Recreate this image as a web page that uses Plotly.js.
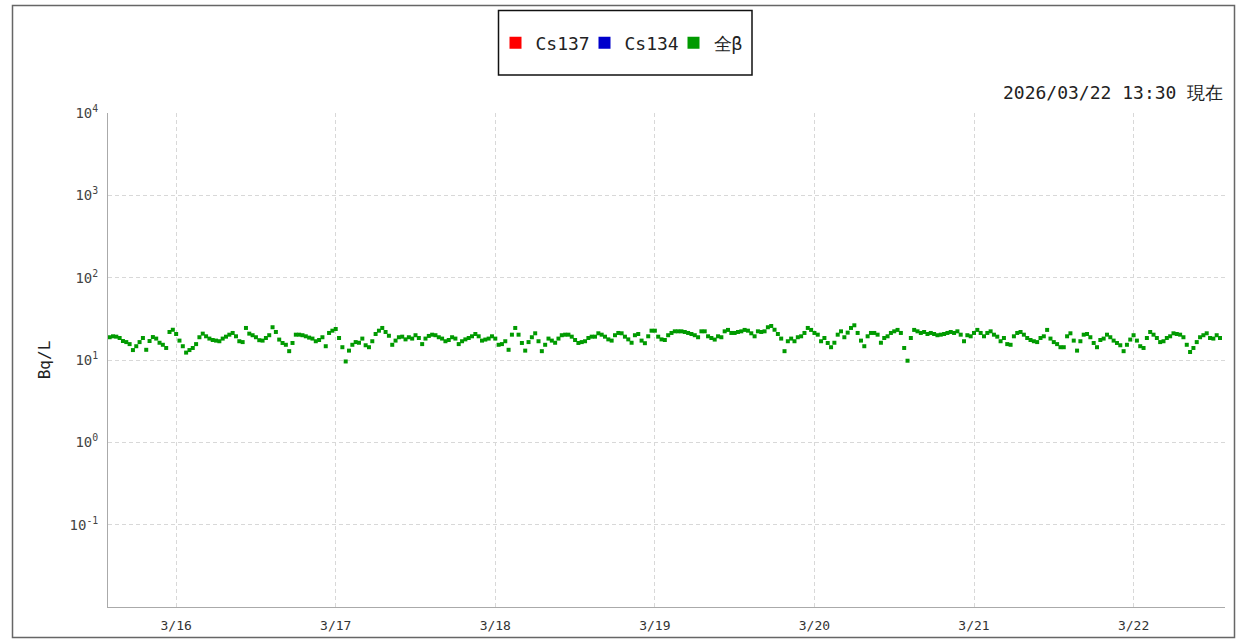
<!DOCTYPE html>
<html>
<head>
<meta charset="utf-8">
<script src="https://cdn.plot.ly/plotly-3.0.1.min.js"></script>
<style>
  html, body { margin: 0; padding: 0; background: #ffffff; }
  #chart { width: 1239px; height: 639px; }
</style>
</head>
<body>
<div id="chart"></div>
<script>
// ---- data ----
const seriesNames = ['Cs137', 'Cs134', '全β'];
const seriesColors = ['#ff0000', '#0000cc', '#009a00'];
const startTime = [2026, 2, 15, 14, 0];   // 2026-03-15 14:00 (first sample)
const stepMinutes = 30;                    // sampling interval
const cs137Values = [null];                // no detected values in this period
const cs134Values = [null];                // no detected values in this period
const betaValues = [
  18.9,19.4,19.2,18.5,17.0,16.5,15.6,13.2,14.7,16.5,18.5,13.3,17.0,19.0,18.2,16.2,15.3,14.0,21.9,23.3,
  20.7,17.2,14.7,12.3,13.2,14.0,15.6,18.9,20.9,19.4,18.2,17.5,17.2,16.9,18.2,19.2,20.3,21.3,19.4,16.9,
  16.5,24.5,20.9,20.0,18.9,17.4,17.2,18.5,20.0,25.0,21.9,17.7,16.1,15.3,12.8,16.1,
  20.3,20.3,20.0,19.4,18.7,18.2,16.9,17.5,18.9,14.7,21.3,22.7,23.8,18.5,14.3,9.6,13.0,15.3,16.5,16.2,
  18.2,15.1,14.3,16.9,20.7,22.7,24.5,21.9,19.7,15.3,17.2,18.9,19.2,17.8,18.9,18.2,20.0,18.5,15.6,18.2,
  19.6,20.3,20.0,18.9,18.2,16.9,17.5,18.9,18.2,15.6,16.9,17.8,18.5,19.4,20.7,19.4,17.2,
  17.7,18.2,19.4,18.2,15.3,15.6,16.9,13.3,20.3,24.5,20.3,16.1,13.0,16.5,18.9,21.1,16.9,12.8,15.3,18.2,
  17.2,16.2,18.2,20.0,20.3,20.3,19.2,17.5,16.1,16.5,16.9,18.5,19.2,19.2,21.1,20.3,19.2,17.8,17.2,20.0,
  21.3,21.1,19.2,17.8,16.2,20.0,20.7,17.2,16.0,19.4,22.7,22.7,19.2,17.8,17.5,20.0,21.3,
  22.3,22.3,22.3,21.9,21.3,20.7,20.0,18.9,22.3,22.3,19.4,18.5,17.7,19.4,18.9,22.3,23.2,21.3,21.3,21.9,
  22.3,23.2,22.7,21.1,19.4,22.3,21.9,22.3,25.0,25.9,23.3,20.7,18.2,12.8,16.9,18.2,16.9,18.9,19.4,21.3,
  24.5,23.2,21.3,20.3,16.9,18.5,16.1,14.3,16.2,20.3,22.3,18.9,21.5,24.5,26.4,21.3,17.2,
  14.7,19.4,21.3,21.3,20.3,16.2,18.5,19.4,21.3,22.3,23.2,21.3,14.0,9.8,18.5,23.2,22.3,21.3,21.9,20.7,
  21.3,20.7,20.0,20.3,20.7,21.3,21.9,21.3,22.3,20.3,16.9,20.0,19.4,21.3,23.2,21.3,19.4,21.3,22.3,20.3,
  19.2,16.9,18.5,15.6,15.3,19.4,21.3,21.9,20.3,18.5,17.5,16.9,16.5,18.5,19.4,23.2,18.2,
  16.5,15.6,14.3,14.3,19.4,21.1,17.2,13.0,16.9,20.3,20.7,18.9,16.1,14.3,17.5,18.2,20.3,18.9,17.2,16.1,
  15.1,12.8,15.3,17.7,20.0,17.2,14.7,14.0,18.5,21.9,20.3,18.5,16.5,16.9,18.5,19.4,21.1,20.7,20.3,18.9,
  15.3,12.5,14.0,16.5,18.9,20.0,21.1,18.5,18.2,20.0,18.5
];
const xTickFormat = '%-m/%-d';
const xRange = ['2026-03-15 13:45', '2026-03-22 13:45'];
const yTickExponents = [-1, 0, 1, 2, 3, 4];
const yTickLabels = ['10<sup>-1</sup>', '10<sup>0</sup>', '10<sup>1</sup>', '10<sup>2</sup>', '10<sup>3</sup>', '10<sup>4</sup>'];
const updatedText = '2026/03/22 13:30 現在';
const yTitle = 'Bq/L';

// ---- timestamps for the regular samples ----
function pad(n) { return (n < 10 ? '0' : '') + n; }
function stamp(i) {
  const ms = Date.UTC(startTime[0], startTime[1], startTime[2], startTime[3], startTime[4]) + i * stepMinutes * 60000;
  const d = new Date(ms);
  return d.getUTCFullYear() + '-' + pad(d.getUTCMonth() + 1) + '-' + pad(d.getUTCDate()) + ' ' +
         pad(d.getUTCHours()) + ':' + pad(d.getUTCMinutes());
}
const betaTimes = betaValues.map((v, i) => stamp(i));
const csTimes = cs137Values.map((v, i) => stamp(i));

const font = 'DejaVu Sans Mono, Liberation Mono, monospace';

const traces = [
  { name: seriesNames[0], x: csTimes, y: cs137Values, type: 'scatter', mode: 'markers',
    marker: { symbol: 'square', size: 4, color: seriesColors[0] } },
  { name: seriesNames[1], x: csTimes, y: cs134Values, type: 'scatter', mode: 'markers',
    marker: { symbol: 'square', size: 4, color: seriesColors[1] } },
  { name: seriesNames[2], x: betaTimes, y: betaValues, type: 'scatter', mode: 'markers',
    marker: { symbol: 'square', size: 4, color: seriesColors[2] } }
];

// plot area in pixels: left 108, right 1225, top 113, bottom 607
const L = 108, R = 1225, T = 113, B = 607;
const px = v => (v - L) / (R - L);
const py = v => (B - v) / (B - T);

const layout = {
  width: 1239, height: 639,
  margin: { l: L, r: 1239 - R, t: T, b: 639 - B, pad: 0 },
  paper_bgcolor: '#ffffff', plot_bgcolor: '#ffffff',
  font: { family: font, color: '#333' },
  showlegend: true,
  legend: {
    orientation: 'h', x: px(629), y: py(43), xanchor: 'center', yanchor: 'middle',
    font: { family: font, size: 18, color: '#222' },
    bgcolor: 'rgba(0,0,0,0)', borderwidth: 0, itemwidth: 30, itemsizing: 'constant',
    entrywidth: 44, entrywidthmode: 'pixels', tracegroupgap: 0
  },
  xaxis: {
    type: 'date', range: xRange, tick0: '2026-03-16', dtick: 86400000, tickformat: xTickFormat,
    showgrid: true, gridcolor: '#d8d8d8', griddash: '4px,3px', gridwidth: 1,
    showline: true, linecolor: '#aaaaaa', linewidth: 1, ticks: '', zeroline: false,
    tickfont: { family: font, size: 13, color: '#333' }, ticklabelstandoff: 6
  },
  yaxis: {
    type: 'log', range: [-2, 4], tickmode: 'array',
    tickvals: yTickExponents.map(e => Math.pow(10, e)), ticktext: yTickLabels,
    showgrid: true, gridcolor: '#d8d8d8', griddash: '4px,3px', gridwidth: 1,
    showline: true, linecolor: '#aaaaaa', linewidth: 1, ticks: '', zeroline: false,
    tickfont: { family: font, size: 14, color: '#444' }, ticklabelstandoff: 6,
    title: { text: yTitle, font: { family: font, size: 16, color: '#222' }, standoff: 14 }
  },
  shapes: [
    { type: 'rect', xref: 'paper', yref: 'paper', x0: px(12.5), x1: px(1234.5), y0: py(637.5), y1: py(5.5),
      line: { color: '#666666', width: 1.5 }, fillcolor: 'rgba(0,0,0,0)', layer: 'below' },
    { type: 'rect', xref: 'paper', yref: 'paper', x0: px(498.5), x1: px(752), y0: py(75), y1: py(10.5),
      line: { color: '#111111', width: 1.5 }, fillcolor: 'rgba(0,0,0,0)' }
  ],
  annotations: [
    { text: updatedText, xref: 'paper', yref: 'paper', x: 1, y: py(92), xanchor: 'right', yanchor: 'middle',
      showarrow: false, font: { family: font, size: 18, color: '#222' } }
  ]
};

Plotly.newPlot('chart', traces, layout, { displayModeBar: false, staticPlot: true });
</script>
</body>
</html>
